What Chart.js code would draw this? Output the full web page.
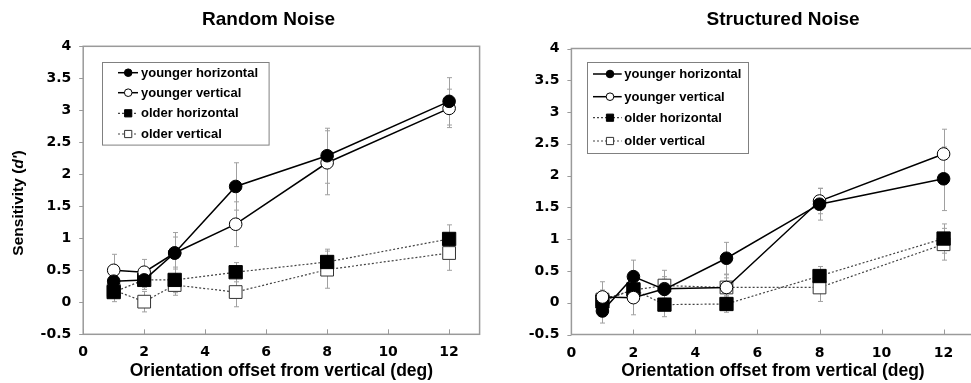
<!DOCTYPE html>
<html>
<head>
<meta charset="utf-8">
<script src="https://cdn.jsdelivr.net/npm/chart.js@4.4.1/dist/chart.umd.min.js"></script>
<style>
html,body{margin:0;padding:0;background:#fff;overflow:hidden;width:971px;height:383px;}
#w1{position:absolute;left:0;top:0;}
#w2{position:absolute;left:490px;top:0;}
</style>
</head>
<body>
<div id="w1"><canvas id="c1" width="490" height="383"></canvas></div>
<div id="w2"><canvas id="c2" width="495" height="383"></canvas></div>
<script>
// ---------------- DATA ----------------
const xValues = [1, 2, 3, 5, 8, 12];
const xTickValues = [0, 2, 4, 6, 8, 10, 12];
const xTickLabels = ['0', '2', '4', '6', '8', '10', '12'];
const yTickValues = [-0.5, 0, 0.5, 1, 1.5, 2, 2.5, 3, 3.5, 4];
const yTickLabels = ['-0.5', '0', '0.5', '1', '1.5', '2', '2.5', '3', '3.5', '4'];
const seriesNames = ['younger horizontal', 'younger vertical', 'older horizontal', 'older vertical'];

// Random Noise
const randomYoungerHorizontal = [0.33, 0.35, 0.77, 1.81, 2.29, 3.14];
const randomYoungerVertical   = [0.50, 0.47, 0.77, 1.22, 2.18, 3.03];
const randomOlderHorizontal   = [0.16, 0.35, 0.35, 0.47, 0.63, 0.99];
const randomOlderVertical     = [0.19, 0.01, 0.27, 0.16, 0.51, 0.77];
const randomYoungerHorizontalErr = [0.18, 0.15, 0.32, 0.37, 0.43, 0.37];
const randomYoungerVerticalErr   = [0.25, 0.20, 0.25, 0.35, 0.50, 0.30];
const randomOlderHorizontalErr   = [0.15, 0.12, 0.20, 0.15, 0.20, 0.22];
const randomOlderVerticalErr     = [0.12, 0.16, 0.16, 0.23, 0.29, 0.27];

// Structured Noise
const structYoungerHorizontal = [-0.13, 0.41, 0.21, 0.70, 1.55, 1.95];
const structYoungerVertical   = [0.09, 0.08, 0.22, 0.24, 1.60, 2.34];
const structOlderHorizontal   = [0.02, 0.21, -0.03, -0.02, 0.42, 1.01];
const structOlderVertical     = [0.05, 0.20, 0.27, 0.24, 0.24, 0.92];
const structYoungerHorizontalErr = [0.19, 0.26, 0.20, 0.25, 0.25, 0.50];
const structYoungerVerticalErr   = [0.24, 0.27, 0.15, 0.20, 0.20, 0.39];
const structOlderHorizontalErr   = [0.15, 0.15, 0.19, 0.13, 0.15, 0.23];
const structOlderVerticalErr     = [0.15, 0.15, 0.24, 0.15, 0.22, 0.25];

const titleLeft = 'Random Noise';
const titleRight = 'Structured Noise';
const xTitle = 'Orientation offset from vertical (deg)';

// ---------------- STYLES ----------------
const styles = [
  {borderColor:'#000', borderWidth:1.5, borderDash:[], pointStyle:'circle', pointRadius:6.3, pointBackgroundColor:'#000', pointBorderColor:'#000', pointBorderWidth:1},
  {borderColor:'#000', borderWidth:1.5, borderDash:[], pointStyle:'circle', pointRadius:6.3, pointBackgroundColor:'#fff', pointBorderColor:'#000', pointBorderWidth:1},
  {borderColor:'#444', borderWidth:1.2, borderDash:[2,2], pointStyle:'rect', pointRadius:9.4, pointBackgroundColor:'#000', pointBorderColor:'#000', pointBorderWidth:1},
  {borderColor:'#444', borderWidth:1.2, borderDash:[2,2], pointStyle:'rect', pointRadius:9.0, pointBackgroundColor:'#fff', pointBorderColor:'#333', pointBorderWidth:1}
];

function makeDatasets(seriesList, errList) {
  return seriesList.map((vals, i) => Object.assign({
    label: seriesNames[i],
    data: xValues.map((xv, j) => ({x: xv, y: vals[j]})),
    errors: errList[i],
    fill: false,
    tension: 0,
    pointHoverRadius: 6,
    clip: 12
  }, styles[i]));
}

const decor = {
  id: 'decor',
  beforeDatasetsDraw(chart, args, o) {
    const {ctx, chartArea: a, scales: {x, y}} = chart;
    ctx.save();
    ctx.strokeStyle = '#9a9a9a';
    ctx.lineWidth = 1.5;
    ctx.setLineDash([]);
    ctx.strokeRect(a.left, a.top, a.right - a.left, a.bottom - a.top);
    ctx.lineWidth = 1;
    ctx.beginPath();
    y.ticks.forEach(t => {
      const py = Math.round(y.getPixelForValue(t.value)) + 0.5;
      ctx.moveTo(a.left - 4, py); ctx.lineTo(a.left, py);
    });
    x.ticks.forEach(t => {
      const px = Math.round(x.getPixelForValue(t.value)) + 0.5;
      ctx.moveTo(px, a.bottom); ctx.lineTo(px, a.bottom - 5);
    });
    ctx.stroke();
    ctx.strokeStyle = '#a0a0a0';
    ctx.lineWidth = 1;
    chart.data.datasets.forEach(ds => {
      ds.data.forEach((p, j) => {
        const e = ds.errors[j];
        const px = Math.round(x.getPixelForValue(p.x)) + 0.5;
        const y1 = y.getPixelForValue(p.y + e);
        const y2 = y.getPixelForValue(p.y - e);
        ctx.beginPath();
        ctx.moveTo(px, y1); ctx.lineTo(px, y2);
        ctx.moveTo(px - 2.5, y1); ctx.lineTo(px + 2.5, y1);
        ctx.moveTo(px - 2.5, y2); ctx.lineTo(px + 2.5, y2);
        ctx.stroke();
      });
    });
    ctx.restore();
  },
  afterDraw(chart, args, o) {
    const {ctx, chartArea: a} = chart;
    ctx.save();
    ctx.fillStyle = '#000';
    ctx.font = 'bold 19px "Liberation Sans"';
    ctx.textAlign = 'center';
    ctx.textBaseline = 'alphabetic';
    ctx.fillText(o.title, o.titleX, o.titleY);
    if (o.yTitle) {
      ctx.save();
      ctx.translate(o.yTitleX, o.yTitleY);
      ctx.rotate(-Math.PI / 2);
      const f1 = 'bold 15.5px "Liberation Sans"';
      const f2 = 'italic bold 15.5px "Liberation Sans"';
      const parts = [[o.yTitle[0], f1], [o.yTitle[1], f2], [o.yTitle[2], f1]];
      let total = 0;
      parts.forEach(p => { ctx.font = p[1]; total += ctx.measureText(p[0]).width; });
      let cx = -total / 2;
      ctx.textAlign = 'left';
      ctx.textBaseline = 'middle';
      parts.forEach(p => { ctx.font = p[1]; ctx.fillText(p[0], cx, 0); cx += ctx.measureText(p[0]).width; });
      ctx.restore();
    }
    const L = o.legend;
    const bx = a.left + L.x, by = a.top + L.y;
    ctx.fillStyle = '#fff';
    ctx.fillRect(bx, by, L.w, L.h);
    ctx.strokeStyle = '#808080';
    ctx.lineWidth = 1;
    ctx.setLineDash([]);
    ctx.strokeRect(Math.round(bx) + 0.5, Math.round(by) + 0.5, L.w, L.h);
    chart.data.datasets.forEach((ds, i) => {
      const ry = a.top + L.rows[i];
      ctx.strokeStyle = ds.borderColor;
      ctx.lineWidth = ds.borderWidth;
      ctx.setLineDash(ds.borderDash);
      ctx.beginPath();
      ctx.moveTo(a.left + L.lineX1, ry); ctx.lineTo(a.left + L.lineX2, ry);
      ctx.stroke();
      ctx.setLineDash([]);
      const mx = a.left + L.markX;
      ctx.fillStyle = ds.pointBackgroundColor;
      ctx.strokeStyle = ds.pointBorderColor;
      ctx.lineWidth = 1;
      ctx.beginPath();
      if (ds.pointStyle === 'circle') {
        ctx.arc(mx, ry, 3.8, 0, Math.PI * 2);
      } else {
        ctx.rect(mx - 3.6, ry - 3.6, 7.2, 7.2);
      }
      ctx.fill(); ctx.stroke();
      ctx.fillStyle = '#000';
      ctx.font = 'bold 13px "Liberation Sans"';
      ctx.textAlign = 'left';
      ctx.textBaseline = 'middle';
      ctx.fillText(ds.label, a.left + L.textX, ry + 0.5);
    });
    ctx.restore();
  }
};

function makeChart(canvasId, datasets, cfg) {
  return new Chart(document.getElementById(canvasId), {
    type: 'line',
    data: {datasets},
    plugins: [decor],
    options: {
      responsive: false,
      animation: false,
      devicePixelRatio: 1,
      layout: {padding: {left: 0, right: cfg.padRight, top: cfg.padTop, bottom: 0}},
      plugins: {
        legend: {display: false},
        tooltip: {enabled: false},
        decor: cfg.decor
      },
      scales: {
        x: {
          type: 'linear', min: 0, max: 13,
          afterBuildTicks: s => { s.ticks = xTickValues.map(v => ({value: v})); },
          afterFit: s => { s.height = cfg.xHeight; },
          grid: {display: false, drawTicks: false},
          border: {display: false},
          ticks: {
            callback: (v, i) => xTickLabels[i],
            color: '#000', padding: 10, maxRotation: 0, autoSkip: false,
            font: {family: 'DejaVu Sans', weight: 'bold', size: 14}
          },
          title: {
            display: true, text: xTitle, color: '#000',
            padding: {top: 2, bottom: 1},
            font: {family: 'Liberation Sans', weight: 'bold', size: 17.5}
          }
        },
        y: {
          type: 'linear', min: -0.5, max: 4,
          afterBuildTicks: s => { s.ticks = yTickValues.map(v => ({value: v})); },
          afterFit: s => { s.width = cfg.yWidth; },
          grid: {display: false, drawTicks: false},
          border: {display: false},
          ticks: {
            callback: (v, i) => yTickLabels[i],
            color: '#000', padding: 12, autoSkip: false,
            font: {family: 'DejaVu Sans', weight: 'bold', size: 14}
          }
        }
      }
    }
  });
}

makeChart('c1', makeDatasets(
  [randomYoungerHorizontal, randomYoungerVertical, randomOlderHorizontal, randomOlderVertical],
  [randomYoungerHorizontalErr, randomYoungerVerticalErr, randomOlderHorizontalErr, randomOlderVerticalErr]
), {
  padRight: 5, padTop: 46.3, xHeight: 48.7, yWidth: 83.2,
  decor: {
    title: titleLeft, titleX: 268.5, titleY: 25,
    yTitle: ['Sensitivity (', "d'", ')'], yTitleX: 19, yTitleY: 203,
    legend: {x: 18.5, y: 15.4, w: 166.6, h: 82.6, rows: [26.4, 46.4, 67, 87.7], lineX1: 34.8, lineX2: 54.8, markX: 45, textX: 57.8}
  }
});

makeChart('c2', makeDatasets(
  [structYoungerHorizontal, structYoungerVertical, structOlderHorizontal, structOlderVertical],
  [structYoungerHorizontalErr, structYoungerVerticalErr, structOlderHorizontalErr, structOlderVerticalErr]
), {
  padRight: 7, padTop: 48.5, xHeight: 48.5, yWidth: 81.4,
  decor: {
    title: titleRight, titleX: 293, titleY: 25,
    yTitle: null,
    legend: {x: 15.9, y: 13.8, w: 161, h: 91, rows: [25.5, 48.2, 69.2, 92.5], lineX1: 21.6, lineX2: 50.3, markX: 38.6, textX: 52.9}
  }
});
</script>
</body>
</html>
